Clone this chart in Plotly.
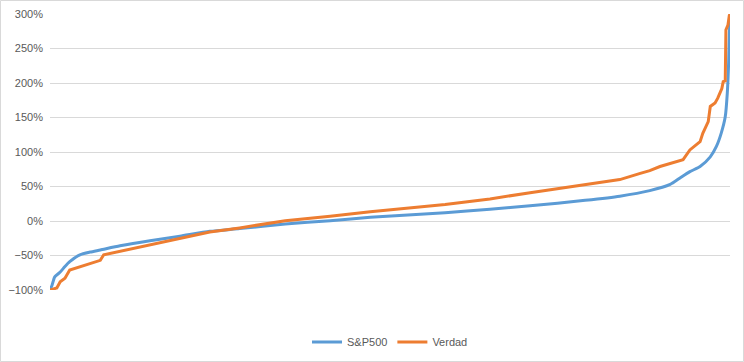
import plotly.graph_objects as go

# Percentile rank (0-100) of each sampled point and return in %
sp_rank = [0, 0.3, 0.7, 1.5, 2.2, 2.9, 4.4, 5.9, 7.4, 10.3, 14.7, 19.1, 23.5, 27.9, 34.6,
           41.2, 47.1, 58.1, 64.7, 70.6, 78.7, 83.8, 88.2, 91.2, 92.6, 94.1, 95.6, 97.1,
           98.0, 98.7, 99.3, 99.6, 99.8, 99.9, 100]
sp_vals = [-100, -93, -81, -74, -66, -59, -49, -45, -42, -36, -28.5, -22, -15, -11, -4.5,
           0.5, 5.3, 12, 17, 22, 30, 36, 44, 53, 62, 71.5, 79, 93,
           108, 127, 151, 185, 230, 270, 290]

vd_rank = [0, 0.4, 1.0, 1.5, 2.2, 2.9, 4.4, 5.9, 7.4, 7.9, 10.3, 14.7, 19.1, 23.5, 27.9,
           34.6, 41.2, 47.1, 58.1, 64.7, 70.6, 78.7, 83.8, 86.8, 88.2, 89.7, 93.1, 94.1,
           95.6, 96.0, 96.8, 97.1, 97.8, 98.2, 98.8, 99.0, 99.3, 99.4, 99.7, 99.9, 100]
vd_vals = [-100, -99, -97, -88, -83, -71, -66, -62, -57, -49, -44, -35, -26, -16, -10,
           0.5, 7, 13.5, 24, 32, 41, 52, 60, 69, 73, 79, 89, 103,
           115, 127, 144, 166, 171, 178, 192, 202, 203, 277, 284, 298, 300]

series_names = ["S&P500", "Verdad"]
colors = ["#5B9BD5", "#ED7D31"]

fig = go.Figure()
fig.add_trace(go.Scatter(x=sp_rank, y=sp_vals, mode="lines", name=series_names[0],
                         line=dict(color=colors[0], width=3, shape="spline", smoothing=0.6)))
fig.add_trace(go.Scatter(x=vd_rank, y=vd_vals, mode="lines", name=series_names[1],
                         line=dict(color=colors[1], width=3)))

fig.update_layout(
    template="none",
    width=744, height=362,
    margin=dict(l=50, r=14, t=14, b=72, autoexpand=False),
    paper_bgcolor="white", plot_bgcolor="white",
    font=dict(family="Liberation Sans, Arial, sans-serif", size=11, color="#595959"),
    showlegend=True,
    legend=dict(orientation="h", x=0.5, xanchor="center", y=-0.188, yanchor="middle",
                font=dict(size=11, color="#595959"), itemwidth=30, bgcolor="rgba(0,0,0,0)"),
    xaxis=dict(range=[0, 100], showgrid=False, zeroline=False, showticklabels=False,
               showline=False, ticks="", automargin=False),
    yaxis=dict(range=[-100, 300], dtick=50, ticksuffix="%", showgrid=True,
               gridcolor="#D9D9D9", gridwidth=1, zeroline=False, showline=False,
               ticks="", ticklabelstandoff=6, automargin=False,
               tickfont=dict(color="#595959", size=11)),
    shapes=[dict(type="rect", xref="paper", yref="paper",
                 x0=-50/680 + 0.5/680, x1=1 + 14/680 - 0.5/680,
                 y0=-72/276 + 0.5/276, y1=1 + 14/276 - 0.5/276,
                 line=dict(color="#D9D9D9", width=1), layer="below")],
)

fig.write_html("out.html",
               config={"displayModeBar": False},
               post_script="document.body.style.margin='0';document.body.style.overflow='hidden';")
